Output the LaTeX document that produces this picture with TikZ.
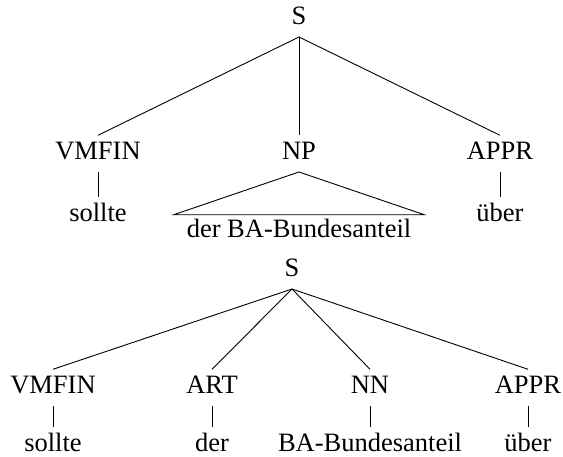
\documentclass[tikz,border=0pt]{standalone}
\usepackage{fontspec}
\setmainfont{Liberation Serif}
\begin{document}
\begin{tikzpicture}[x=1pt,y=1pt,
  lbl/.style={anchor=base,inner xsep=0pt,inner ysep=6pt,text height=18.5pt,text depth=5.8pt,font=\fontsize{26.5}{32}\selectfont},
  edge/.style={line width=0.9pt}]
\useasboundingbox (0,0) rectangle (563,457);
% top tree
\node[lbl] (s1) at (299,432) {S};
\node[lbl] (v1) at (98,297) {VMFIN};
\node[lbl] (np) at (299,297) {NP};
\node[lbl] (a1) at (500,297) {APPR};
\node[lbl] (w1) at (98,235) {sollte};
\node[lbl] (u1) at (500,235) {über};
\node[lbl,inner xsep=13pt,inner ysep=4.5pt] (t1) at (299,219) {der BA-Bundesanteil};
\draw[edge] (s1.south) -- (v1.north);
\draw[edge] (s1.south) -- (np.north);
\draw[edge] (s1.south) -- (a1.north);
\draw[edge] (v1.south) -- (w1.north);
\draw[edge] (a1.south) -- (u1.north);
\draw[edge] (np.south) -- (t1.north west) -- (t1.north east) -- cycle;
% bottom tree
\node[lbl] (s2) at (292,180) {S};
\node[lbl] (v2) at (53,63) {VMFIN};
\node[lbl] (art) at (212,63) {ART};
\node[lbl] (nn) at (370,63) {NN};
\node[lbl] (a2) at (528,63) {APPR};
\node[lbl] (w2) at (53,5) {sollte};
\node[lbl] (d2) at (212,5) {der};
\node[lbl] (b2) at (370,5) {BA-Bundesanteil};
\node[lbl] (u2) at (528,5) {über};
\draw[edge] (s2.south) -- (v2.north);
\draw[edge] (s2.south) -- (art.north);
\draw[edge] (s2.south) -- (nn.north);
\draw[edge] (s2.south) -- (a2.north);
\draw[edge] (v2.south) -- (w2.north);
\draw[edge] (art.south) -- (d2.north);
\draw[edge] (nn.south) -- (b2.north);
\draw[edge] (a2.south) -- (u2.north);
\end{tikzpicture}
\end{document}
